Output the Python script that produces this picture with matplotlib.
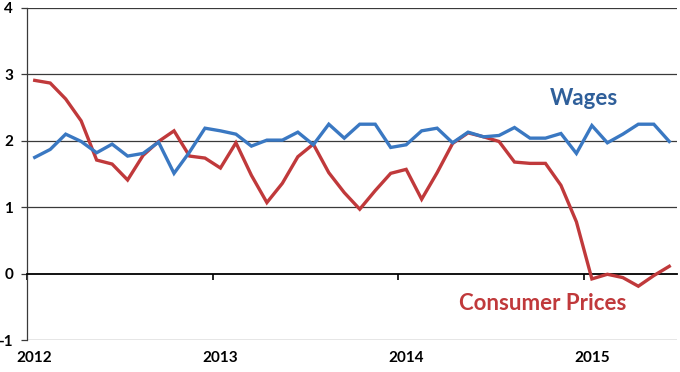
import matplotlib
matplotlib.use('Agg')
import matplotlib.pyplot as plt
import matplotlib.transforms as mtransforms

# monthly values, Jan 2012 - Jun 2015
wages = [1.75, 1.87, 2.10, 1.99, 1.82, 1.95, 1.77, 1.81, 1.98, 1.51,
         1.83, 2.19, 2.15, 2.10, 1.92, 2.01, 2.01, 2.13, 1.94, 2.25,
         2.04, 2.25, 2.25, 1.90, 1.94, 2.15, 2.19, 1.97, 2.13, 2.06,
         2.08, 2.20, 2.04, 2.04, 2.11, 1.81, 2.23, 1.97, 2.10, 2.25,
         2.25, 1.99]
prices = [2.91, 2.87, 2.63, 2.30, 1.71, 1.65, 1.41, 1.78, 1.99, 2.15,
          1.77, 1.74, 1.59, 1.97, 1.48, 1.07, 1.36, 1.76, 1.95, 1.52,
          1.22, 0.97, 1.25, 1.51, 1.57, 1.12, 1.52, 1.96, 2.12, 2.06,
          1.99, 1.68, 1.66, 1.66, 1.33, 0.78, -0.08, -0.01, -0.06, -0.19,
          -0.03, 0.11]
years = ['2012', '2013', '2014', '2015']
yticks = [-1, 0, 1, 2, 3, 4]

months = [i + 0.5 for i in range(len(wages))]

fig = plt.figure(figsize=(6.8, 3.72), dpi=100)
ax = fig.add_axes([0.0397, 0.086, 0.9559, 0.8925])

blue = '#3A78C2'
red = '#C0393B'

ax.plot(months, prices, color=red, lw=2.4, solid_joinstyle='miter', zorder=3)
ax.plot(months, wages, color=blue, lw=2.4, solid_joinstyle='miter', zorder=4)

ax.set_xlim(0, 42)
ax.set_ylim(-1, 4)

for y in yticks:
    if y != 0:
        ax.axhline(y, color='#3a3a3a', lw=0.9, zorder=1)

for s in ['top', 'right']:
    ax.spines[s].set_visible(False)
ax.spines['bottom'].set_position(('data', 0))
ax.spines['bottom'].set_color('black')
ax.spines['bottom'].set_linewidth(1.3)
ax.spines['left'].set_color('#3a3a3a')
ax.spines['left'].set_linewidth(0.9)

ax.set_yticks(yticks)
ax.set_yticklabels([str(v) for v in yticks], fontsize=11, fontweight='bold',
                   family=['Lato', 'DejaVu Sans'])
ax.tick_params(axis='y', length=4, width=0.9, pad=6, color='#3a3a3a')

ax.set_xticks([0, 12, 24, 36])
ax.set_xticklabels([])
ax.tick_params(axis='x', length=4, width=1.2, direction='out')

trans = mtransforms.blended_transform_factory(ax.transData, ax.transAxes)
for k, yr in enumerate(years):
    ax.text(12 * k + 0.5, -0.055, yr, transform=trans, ha='center', va='center',
            fontsize=11, fontweight='bold', family=['Lato', 'DejaVu Sans'])

ax.text(36.0, 2.63, 'Wages', color='#2F5F9A', fontsize=16, fontweight='bold',
        ha='center', va='center', family=['Lato', 'DejaVu Sans'])
ax.text(33.3, -0.45, 'Consumer Prices', color=red, fontsize=16, fontweight='bold',
        ha='center', va='center', family=['Lato', 'DejaVu Sans'])

fig.savefig('out.png', dpi=100)
